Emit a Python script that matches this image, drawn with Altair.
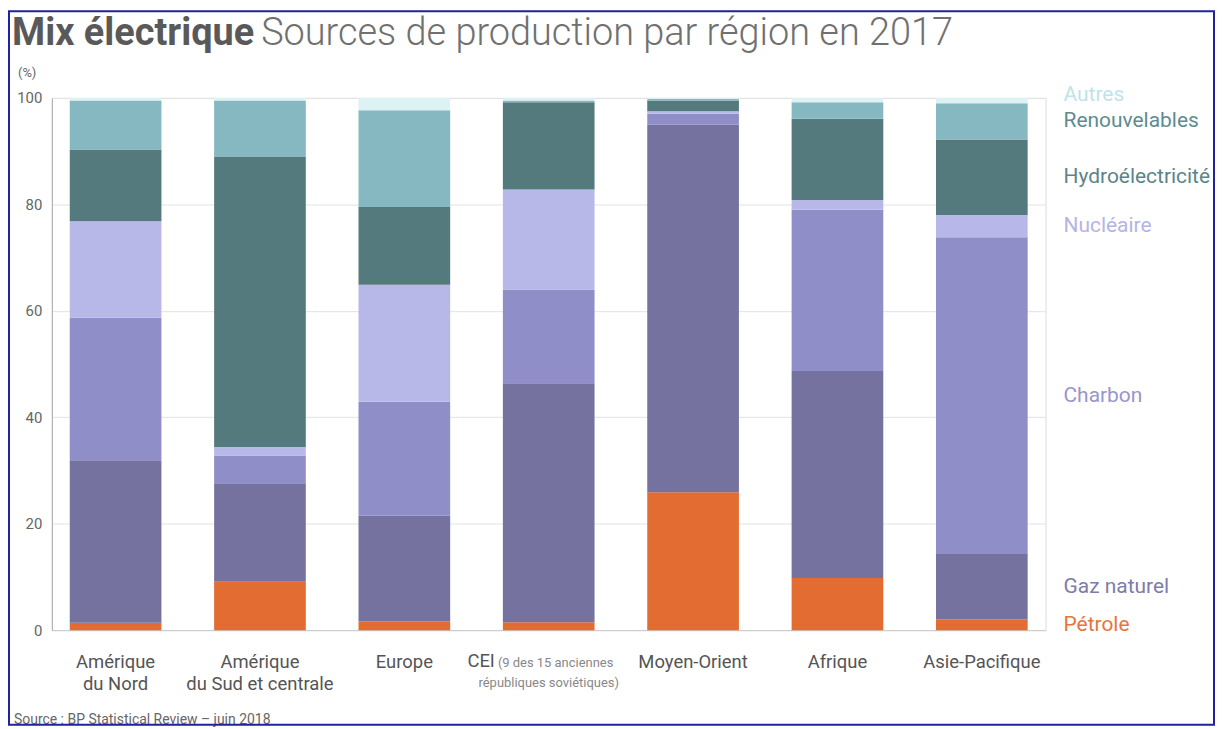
import altair as alt
import pandas as pd

# ---- data ----
regions = ["Amérique|du Nord", "Amérique|du Sud et centrale", "Europe", "CEI",
           "Moyen-Orient", "Afrique", "Asie-Pacifique"]
sources = ["Pétrole", "Gaz naturel", "Charbon", "Nucléaire",
           "Hydroélectricité", "Renouvelables", "Autres"]
petrole = [1.4, 9.1, 1.6, 1.5, 25.9, 9.8, 2.0]
gaz = [30.5, 18.5, 19.9, 44.9, 69.1, 38.9, 12.3]
charbon = [26.8, 5.2, 21.4, 17.6, 2.0, 30.3, 59.5]
nucleaire = [18.1, 1.6, 22.0, 18.8, 0.5, 1.8, 4.2]
hydro = [13.5, 54.5, 14.6, 16.4, 2.0, 15.3, 14.2]
renouv = [9.2, 10.6, 18.2, 0.3, 0.3, 3.1, 6.8]
autres = [0.5, 0.5, 2.3, 0.5, 0.2, 0.8, 1.0]
y_ticks = [0, 20, 40, 60, 80, 100]

bar_colors = ["#E36C32", "#7572A0", "#908EC8", "#B8B8E8", "#557A7E", "#86B8C2", "#DDF2F5"]
label_colors = ["#E8743C", "#7E7CAA", "#9896CC", "#B4B4E4", "#5A8588", "#5F8B8F", "#BFE3EA"]

series = [petrole, gaz, charbon, nucleaire, hydro, renouv, autres]
rows = []
for si, (s, vals) in enumerate(zip(sources, series)):
    for r, v in zip(regions, vals):
        rows.append({"region": r, "source": s, "value": v, "order": si})
df = pd.DataFrame(rows)

# label positions: midpoints of the last bar's segments
cum = 0.0
lab_rows = []
for si, (s, vals) in enumerate(zip(sources, series)):
    v = vals[-1]
    lab_rows.append({"source": s, "mid": cum + v / 2, "order": si,
                     "lab_color": label_colors[si]})
    cum += v
labels_df = pd.DataFrame(lab_rows)

W, H = 997, 534
font = "Roboto"

x_scale = alt.Scale(domain=regions, paddingInner=0.365, paddingOuter=0.124)
y_scale = alt.Scale(domain=[0, 100], nice=False)
color_scale = alt.Scale(domain=sources, range=bar_colors)

bars = alt.Chart(df).mark_bar().encode(
    x=alt.X("region:N", scale=x_scale, sort=regions, title=None,
            axis=alt.Axis(labelExpr="datum.value == 'CEI' ? '' : split(datum.value, '|')",
                          labelAngle=0, labelFontSize=18.5, labelColor="#555555",
                          labelFont=font, labelLineHeight=23, labelPadding=22,
                          ticks=False, domainColor="#cccccc", labelBaseline="top")),
    y=alt.Y("value:Q", stack="zero", scale=y_scale, title=None,
            axis=alt.Axis(values=y_ticks, labelFontSize=15, labelColor="#666666",
                          labelFont=font, labelPadding=10, ticks=False,
                          domainColor="#aaaaaa", gridColor="#e2e2e2")),
    color=alt.Color("source:N", scale=color_scale, legend=None),
    order=alt.Order("order:Q", sort="ascending"),
)

labels_main = alt.Chart(labels_df).transform_filter("datum.source != 'Autres'").mark_text(
    align="left", baseline="middle", fontSize=21, font=font).encode(
    x=alt.value(1015),
    y=alt.Y("mid:Q", scale=y_scale),
    text="source:N",
    color=alt.Color("lab_color:N", scale=None, legend=None),
)
labels_top = alt.Chart(labels_df).transform_filter("datum.source == 'Autres'").mark_text(
    align="left", baseline="middle", fontSize=21, font=font, dy=-6).encode(
    x=alt.value(1015),
    y=alt.Y("mid:Q", scale=y_scale),
    text="source:N",
    color=alt.Color("lab_color:N", scale=None, legend=None),
)

cei_df = pd.DataFrame({"region": ["CEI"]})
cei_main = alt.Chart(cei_df).mark_text(text="CEI", align="right", baseline="alphabetic",
                                       fontSize=18.5, font=font, color="#555555", dx=-54).encode(
    x=alt.X("region:N", scale=x_scale, sort=regions, bandPosition=0.5), y=alt.value(H + 37))
cei_small1 = alt.Chart(cei_df).mark_text(text="(9 des 15 anciennes", align="left",
                                         baseline="alphabetic", fontSize=13, font=font,
                                         color="#888888", dx=-51).encode(
    x=alt.X("region:N", scale=x_scale, sort=regions, bandPosition=0.5), y=alt.value(H + 37))
cei_small2 = alt.Chart(cei_df).mark_text(text="républiques soviétiques)", align="center",
                                         baseline="alphabetic", fontSize=13, font=font,
                                         color="#888888", dx=0).encode(
    x=alt.X("region:N", scale=x_scale, sort=regions, bandPosition=0.5), y=alt.value(H + 57))

one = pd.DataFrame({"k": [0]})
title_bold = alt.Chart(one).mark_text(text="Mix électrique", align="left", baseline="alphabetic",
                                      fontSize=38, fontWeight="bold", font=font,
                                      color="#595959").encode(x=alt.value(-40), y=alt.value(-53))
title_light = alt.Chart(one).mark_text(text="Sources de production par région en 2017",
                                       align="left", baseline="alphabetic", fontSize=38,
                                       fontWeight=300, font=font,
                                       color="#707070").encode(x=alt.value(210), y=alt.value(-53))
unit = alt.Chart(one).mark_text(text="(%)", align="left", baseline="middle", fontSize=13,
                                font=font, color="#666666").encode(x=alt.value(-34), y=alt.value(-25))
source_txt = alt.Chart(one).mark_text(text="Source : BP Statistical Review – juin 2018",
                                      align="left", baseline="middle", fontSize=14, font=font,
                                      color="#666666").encode(x=alt.value(-38), y=alt.value(H + 90))
border = alt.Chart(one).mark_rect(fill=None, stroke="#22229a", strokeWidth=2).encode(
    x=alt.value(-43), x2=alt.value(W + 169), y=alt.value(-87), y2=alt.value(H + 95))

chart = alt.layer(bars, labels_main, labels_top, cei_main, cei_small1, cei_small2,
                  title_bold, title_light, unit, source_txt, border).properties(
    width=W, height=H,
    padding={"left": 44, "top": 89, "right": 171, "bottom": 96},
    autosize=alt.AutoSizeParams(type="none"),
).configure_view(stroke=None).configure(font=font)

chart.save("out.html", embed_options={"renderer": "svg", "actions": False})
